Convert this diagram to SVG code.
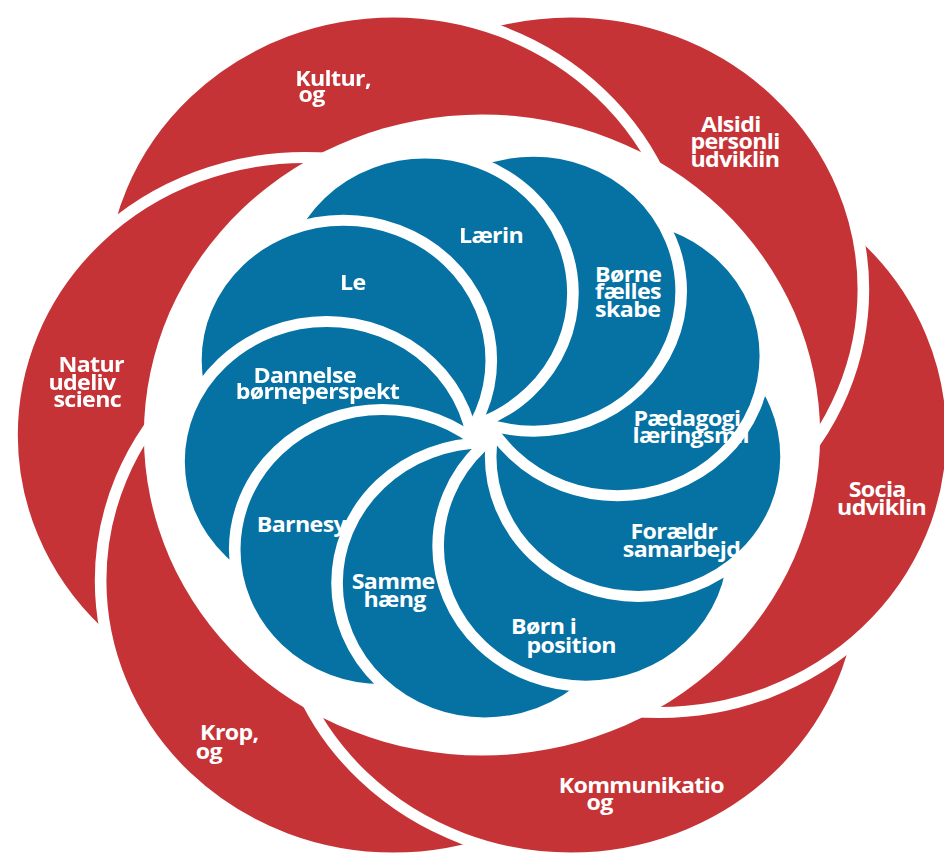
<svg xmlns="http://www.w3.org/2000/svg" width="944" height="857" viewBox="0 0 944 857">
<style>
.red{fill:#C53337}
.blue{fill:#0572A3}
.ol{fill:none;stroke:#FFFFFF;stroke-width:11}
text{font-family:"Open Sans","Liberation Sans",sans-serif;font-weight:700;font-size:22px;fill:#FFFFFF;letter-spacing:-0.6px}
</style>
<defs>
<mask id="maskRed" maskUnits="userSpaceOnUse" maskContentUnits="userSpaceOnUse" x="-200" y="-200" width="1400" height="1300"><circle cx="336.5" cy="351" r="286" fill="#FFFFFF"/></mask>
<mask id="maskBlue" maskUnits="userSpaceOnUse" maskContentUnits="userSpaceOnUse" x="-200" y="-200" width="1400" height="1300"><circle cx="365.4" cy="338.6" r="148" fill="#FFFFFF"/></mask>
</defs>
<rect x="0" y="0" width="944" height="857" fill="#FFFFFF"/>
<g transform="matrix(1.055 0 0 1 -26.51 0)">
<g id="petals">
<g id="p-natur"><circle class="red" cx="314" cy="435" r="277.5"/><text x="80.5" y="372.3">Natur</text><text x="71" y="390">udeliv</text><text x="75.8" y="407.3">scienc</text><circle class="ol" cx="314" cy="435" r="277.5"/></g>
<g id="p-krop"><circle class="red" cx="398" cy="580.5" r="277.5"/><text x="214.8" y="740.3">Krop,</text><text x="210.6" y="758.7">og</text><circle class="ol" cx="398" cy="580.5" r="277.5"/></g>
<g id="p-komm"><circle class="red" cx="566" cy="580.5" r="277.5"/><text x="554.7" y="792.7">Kommunikatio</text><text x="581" y="810.3">og</text><circle class="ol" cx="566" cy="580.5" r="277.5"/></g>
<g id="p-socia"><circle class="red" cx="650" cy="435" r="277.5"/><text x="829.6" y="497">Socia</text><text x="818.6" y="515.3">udviklin</text><circle class="ol" cx="650" cy="435" r="277.5"/></g>
<g id="p-alsidi"><circle class="red" cx="566" cy="289.5" r="277.5"/><text x="689.6" y="131.7">Alsidi</text><text x="679.6" y="149">personli</text><text x="679.6" y="166.7">udviklin</text><circle class="ol" cx="566" cy="289.5" r="277.5"/></g>
<g id="p-kultur"><circle class="red" cx="398" cy="289.5" r="277.5"/><text x="304.9" y="86">Kultur,</text><text x="308" y="101.7">og</text><circle class="ol" cx="398" cy="289.5" r="277.5"/></g>
<g mask="url(#maskRed)">
<use href="#p-socia"/><use href="#p-alsidi"/><use href="#p-kultur"/><use href="#p-natur"/><use href="#p-krop"/><use href="#p-komm"/>
</g>
</g>
<circle id="hub" cx="482" cy="435" r="320.5" fill="#FFFFFF"/>
<g id="swirl">
<g id="n-le"><circle class="blue" cx="350.8" cy="360.3" r="140"/><text x="347.5" y="290">Le</text><circle class="ol" cx="350.8" cy="360.3" r="140"/></g>
<g id="n-dannelse"><circle class="blue" cx="334.8" cy="461.6" r="140"/><text x="265.3" y="382.7">Dannelse</text><text x="248.5" y="399.3">børneperspekt</text><circle class="ol" cx="334.8" cy="461.6" r="140"/></g>
<g id="n-barnesy"><circle class="blue" cx="387.6" cy="549.6" r="140"/><text x="268.5" y="532">Barnesy</text><circle class="ol" cx="387.6" cy="549.6" r="140"/></g>
<g id="n-samme"><circle class="blue" cx="484.6" cy="583" r="140"/><text x="358.5" y="589.3">Samme</text><text x="369.6" y="607">hæng</text><circle class="ol" cx="484.6" cy="583" r="140"/></g>
<g id="n-born-i"><circle class="blue" cx="580.4" cy="546.2" r="140"/><text x="509.6" y="634.3">Børn i</text><text x="524.1" y="652.7">position</text><circle class="ol" cx="580.4" cy="546.2" r="140"/></g>
<g id="n-foraeldr"><circle class="blue" cx="630.2" cy="456.5" r="140"/><text x="622.7" y="539">Forældr</text><text x="615.5" y="556.7">samarbejd</text><circle class="ol" cx="630.2" cy="456.5" r="140"/></g>
<g id="n-paedagogi"><circle class="blue" cx="610.6" cy="355.7" r="140"/><text x="625.5" y="426">Pædagogi</text><text x="624.6" y="443">læringsmil</text><circle class="ol" cx="610.6" cy="355.7" r="140"/></g>
<g id="n-borne"><circle class="blue" cx="530.8" cy="291.2" r="140"/><text x="589.2" y="281.7">Børne</text><text x="589.2" y="299.3">fælles</text><text x="589.2" y="316.7">skabe</text><circle class="ol" cx="530.8" cy="291.2" r="140"/></g>
<g id="n-laerin"><circle class="blue" cx="428.2" cy="293" r="140"/><text x="460.2" y="242.7">Lærin</text><circle class="ol" cx="428.2" cy="293" r="140"/></g>
<g mask="url(#maskBlue)">
<use href="#n-foraeldr"/><use href="#n-paedagogi"/><use href="#n-borne"/><use href="#n-laerin"/><use href="#n-le"/><use href="#n-dannelse"/><use href="#n-barnesy"/><use href="#n-samme"/><use href="#n-born-i"/>
</g>
</g>
</g>
</svg>
